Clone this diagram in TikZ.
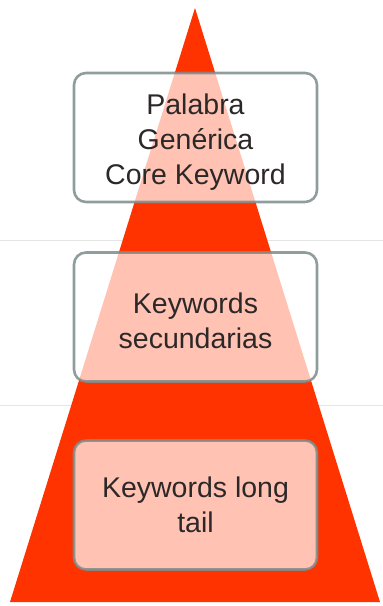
\documentclass[tikz,border=0pt]{standalone}
\usepackage{fontspec}
\setmainfont{Liberation Sans}
\definecolor{pyrred}{RGB}{255,51,0}
\definecolor{boxline}{RGB}{125,140,140}
\definecolor{txt}{RGB}{45,40,40}
\definecolor{sepline}{RGB}{228,228,228}
\tikzset{
  lvlbox/.style={draw=boxline, draw opacity=0.85, line width=2.6pt, rounded corners=12pt,
    fill=white, fill opacity=0.7, text opacity=1, text=txt, minimum width=243pt, minimum height=129pt,
    align=center, font=\fontsize{28.5}{35}\selectfont},
  sep/.style={draw=sepline, line width=1pt}
}
\begin{document}
\begin{tikzpicture}[x=1pt,y=-1pt]
\useasboundingbox (0,0) rectangle (383,606);
\fill[white] (0,0) rectangle (383,606);
\coordinate (l1a) at (0,240); \coordinate (l1b) at (383,240);
\coordinate (l2a) at (0,405); \coordinate (l2b) at (383,405);
\draw[sep] (l1a) -- (l1b);
\draw[sep] (l2a) -- (l2b);
\coordinate (apex) at (195,8);
\coordinate (bl) at (10,602);
\coordinate (br) at (380,602);
\fill[pyrred] (apex) -- (br) -- (bl) -- cycle;
\node[lvlbox] (b1) at (195.5,137.5) {\rule{0pt}{30pt}Palabra\\Genérica\\Core Keyword};
\node[lvlbox] (b2) at (195.5,317) {\rule{0pt}{29pt}Keywords\\secundarias};
\node[lvlbox] (b3) at (195.5,505) {Keywords long\\tail};
\end{tikzpicture}
\end{document}
